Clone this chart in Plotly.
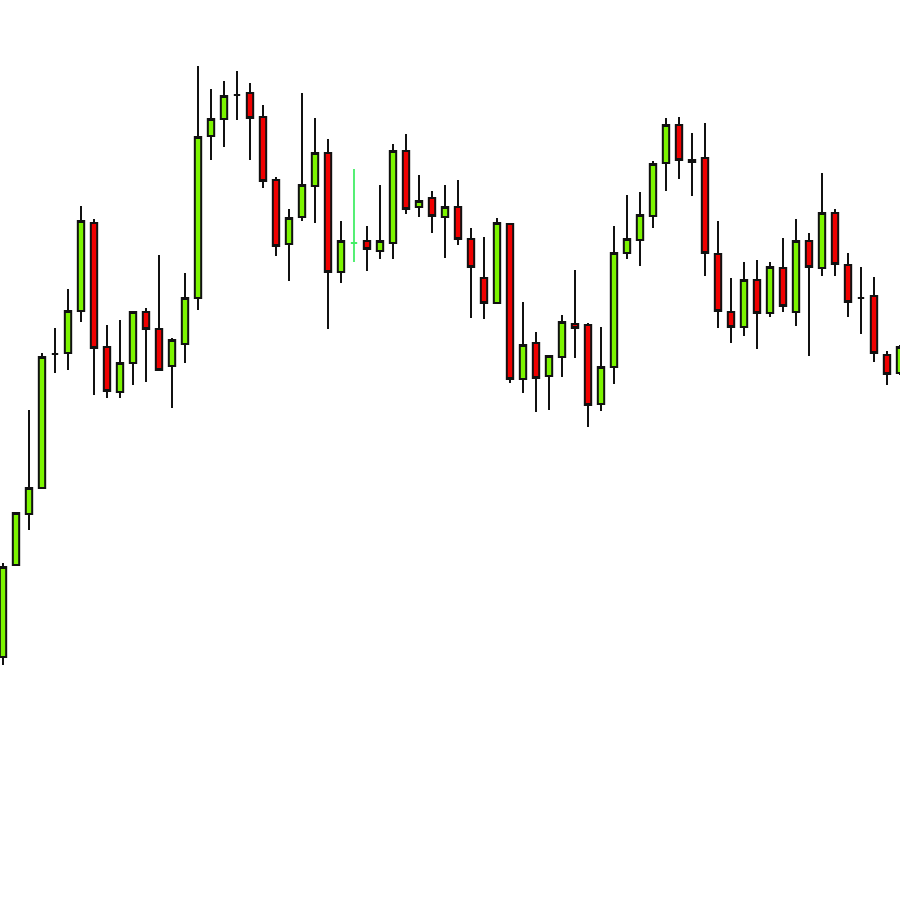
import plotly.graph_objects as go

# Price values (arbitrary units, higher = up)
idx = list(range(70))
open_ = [243, 335, 386, 412, 546, 547, 589, 677, 553, 508, 537, 588, 571, 534, 556, 602, 764, 781, 805, 807, 783, 720, 656, 683, 714, 747, 628, 657, 659, 649, 657, 749, 693, 702, 683, 693, 661, 622, 597, 676, 521, 557, 524, 543, 576, 575, 496, 533, 647, 660, 684, 737, 775, 738, 742, 646, 588, 573, 620, 587, 632, 588, 659, 632, 687, 635, 602, 604, 545, 527]
close_ = [333, 387, 412, 543, 546, 589, 679, 552, 509, 537, 588, 571, 530, 560, 602, 763, 781, 804, 805, 782, 719, 654, 682, 715, 747, 628, 659, 657, 651, 659, 749, 691, 699, 684, 693, 661, 633, 597, 677, 521, 555, 522, 544, 578, 572, 495, 533, 647, 661, 685, 736, 775, 740, 740, 647, 589, 573, 620, 587, 633, 594, 659, 633, 687, 636, 598, 602, 547, 526, 553]
high_ = [337, 388, 490, 547, 572, 611, 694, 681, 575, 580, 588, 592, 645, 562, 627, 834, 811, 819, 829, 817, 795, 723, 691, 807, 782, 761, 679, 731, 674, 715, 756, 766, 725, 709, 715, 720, 672, 663, 682, 676, 598, 568, 545, 585, 630, 577, 573, 674, 705, 708, 739, 782, 783, 767, 777, 679, 622, 638, 640, 638, 662, 681, 667, 727, 691, 647, 633, 623, 549, 555]
low_ = [235, 335, 370, 412, 527, 530, 578, 505, 502, 502, 515, 518, 530, 492, 537, 590, 740, 753, 780, 740, 712, 644, 619, 679, 677, 571, 617, 638, 629, 641, 641, 686, 683, 667, 642, 655, 582, 581, 597, 517, 507, 488, 490, 523, 542, 473, 489, 516, 641, 634, 672, 709, 721, 704, 624, 572, 557, 564, 551, 583, 588, 574, 544, 624, 624, 583, 566, 538, 515, 525]

# one candle drawn with a plain green line (no outline)
special = [27]

main_i = [i for i in idx if i not in special]

fig = go.Figure()
fig.add_trace(go.Candlestick(
    x=main_i,
    open=[open_[i] for i in main_i], high=[high_[i] for i in main_i],
    low=[low_[i] for i in main_i], close=[close_[i] for i in main_i],
    increasing=dict(fillcolor="#7CF500", line=dict(color="#111111", width=2)),
    decreasing=dict(fillcolor="#F00000", line=dict(color="#111111", width=2)),
    whiskerwidth=0, showlegend=False, hoverinfo="skip",
))
fig.add_trace(go.Candlestick(
    x=special,
    open=[open_[i] for i in special], high=[high_[i] for i in special],
    low=[low_[i] for i in special], close=[close_[i] for i in special],
    increasing=dict(fillcolor="#44EE66", line=dict(color="#44EE66", width=1.8)),
    decreasing=dict(fillcolor="#44EE66", line=dict(color="#44EE66", width=1.8)),
    whiskerwidth=0, showlegend=False, hoverinfo="skip",
))

fig.update_layout(
    width=900, height=900,
    margin=dict(l=0, r=0, t=0, b=0),
    paper_bgcolor="white", plot_bgcolor="white",
    xaxis=dict(range=[-0.231, 69.0], visible=False, rangeslider=dict(visible=False)),
    yaxis=dict(range=[0, 900], visible=False),
)
fig.write_html(
    "out.html",
    config={"displayModeBar": False, "staticPlot": True},
    post_script="document.body.style.margin='0';document.body.style.overflow='hidden';",
)
